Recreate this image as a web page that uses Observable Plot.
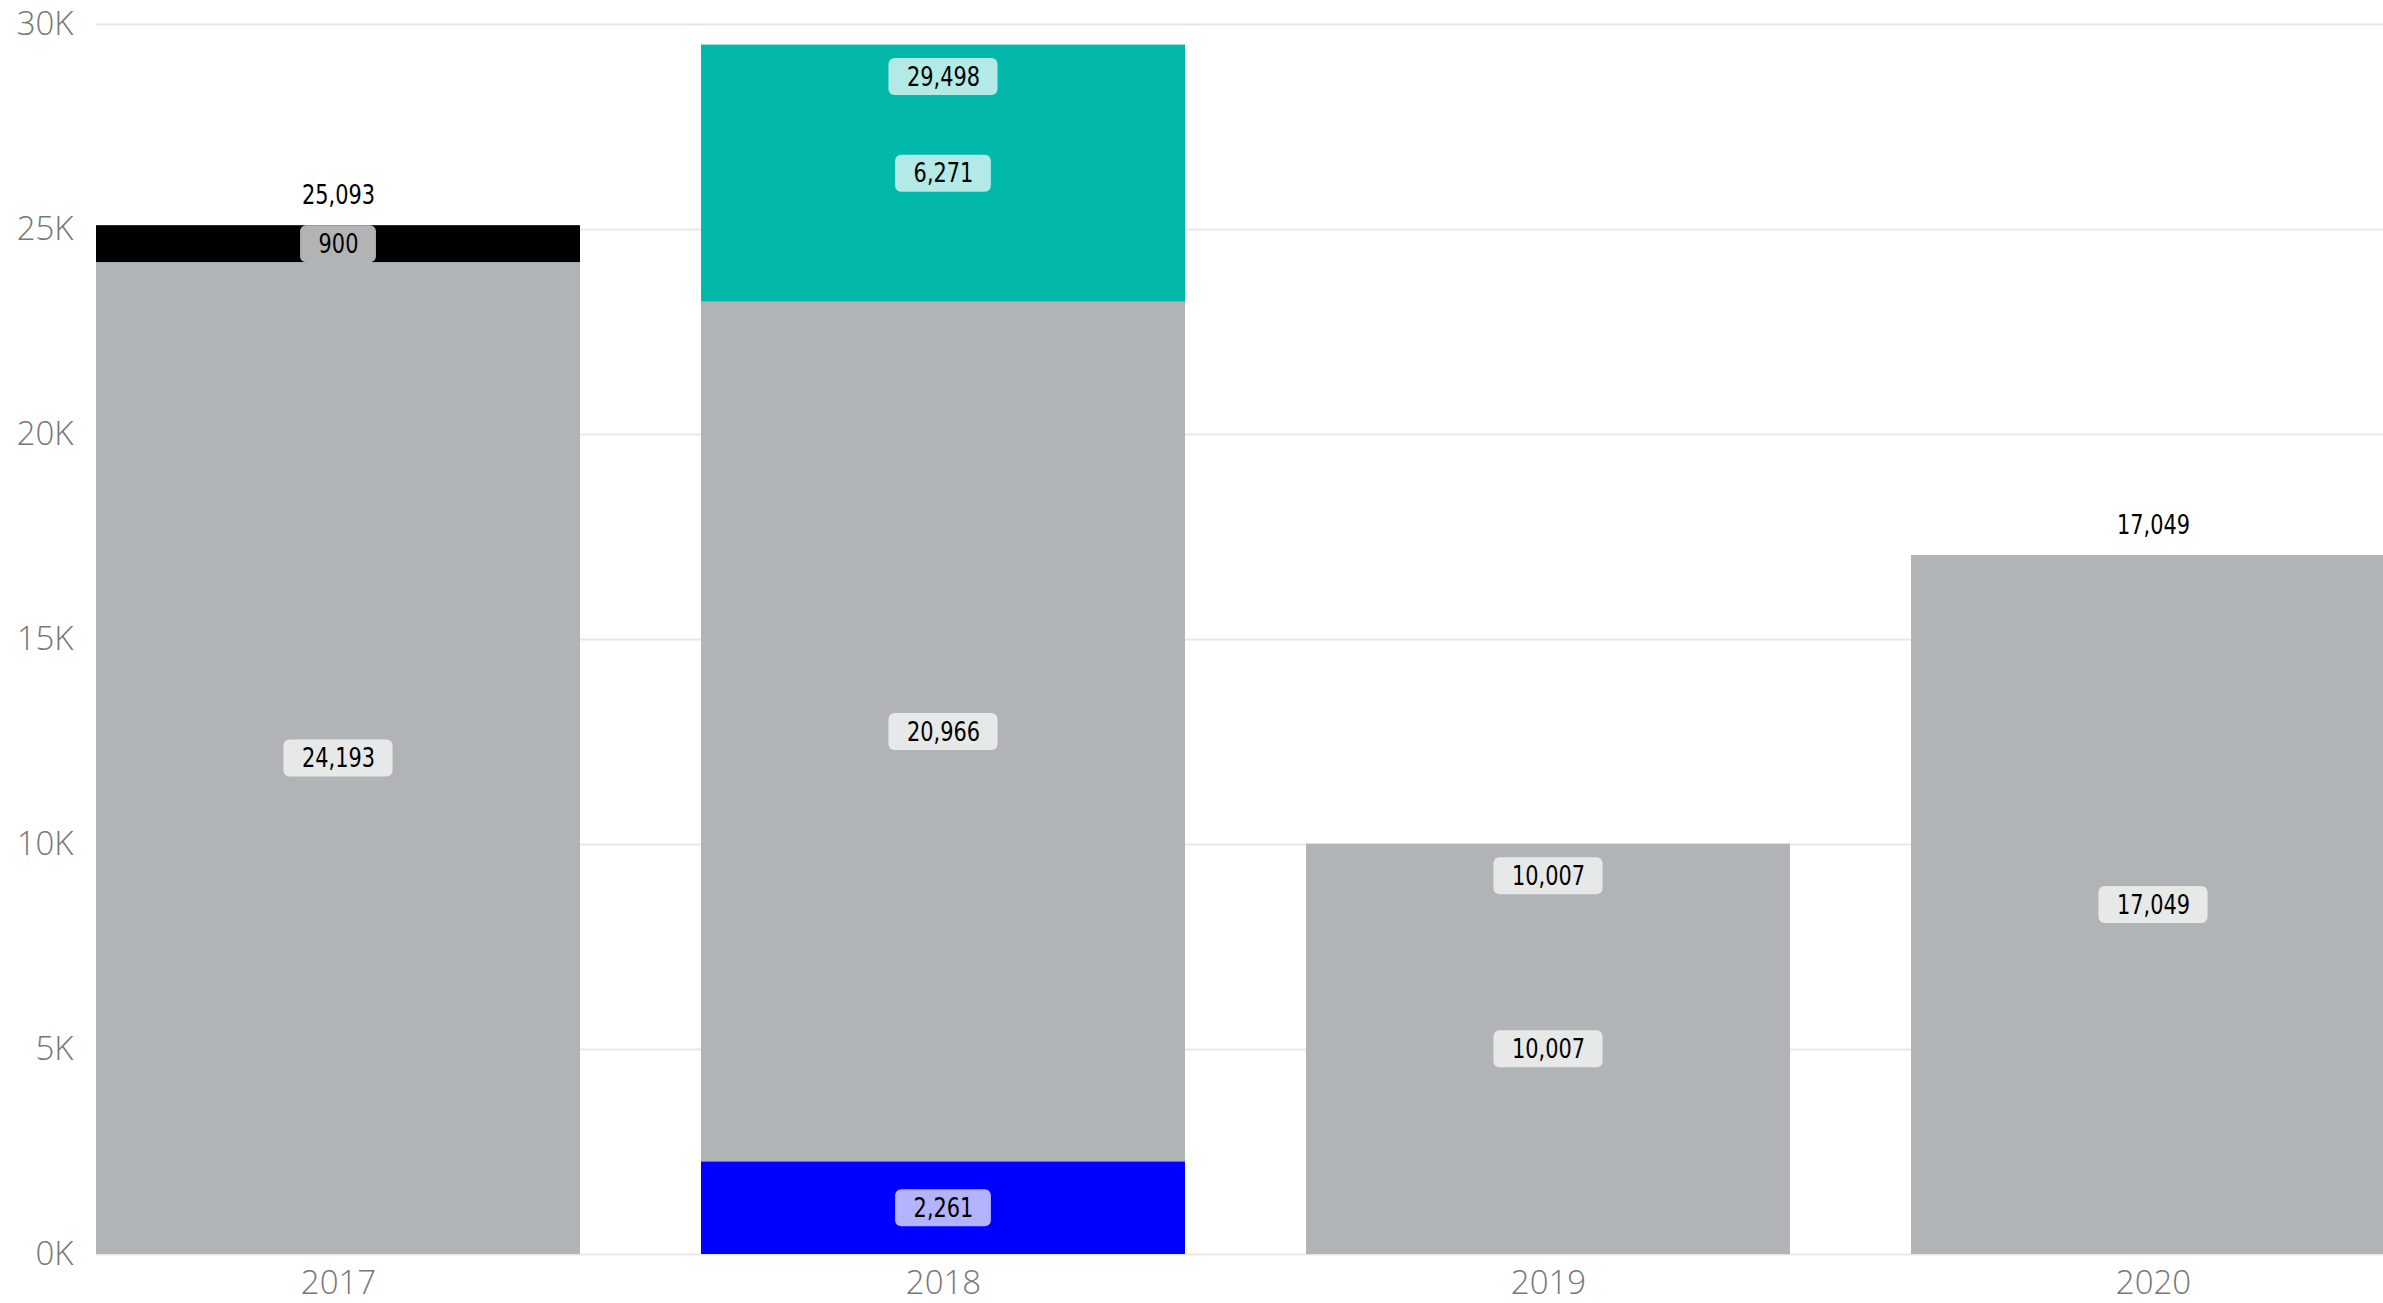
<!DOCTYPE html>
<html><head><meta charset="utf-8">
<script src="https://cdn.jsdelivr.net/npm/d3@7"></script>
<script src="https://cdn.jsdelivr.net/npm/@observablehq/plot@0.6"></script>
<style>
html,body{margin:0;padding:0;background:#fff;overflow:hidden}
#chart{width:2383px;height:1303px;overflow:hidden}
#chart svg{overflow:hidden}
</style></head><body><div id="chart"></div>
<script>
// ---- data ----
const years = ["2017", "2018", "2019", "2020"];
const segYear = ["2017", "2017", "2018", "2018", "2018", "2019", "2020"];
const segSeries = ["Base", "Extra", "New", "Base", "Growth", "Base", "Base"];
const segValue = [24193, 900, 2261, 20966, 6271, 10007, 17049];
const seriesNames = ["Base", "Extra", "New", "Growth"];
const seriesColors = ["#b0b4b6", "#000000", "#0000ff", "#01b8aa"];
const yTicks = [0, 5000, 10000, 15000, 20000, 25000, 30000];
const totalsInside = ["2018", "2019"];

// ---- build table ----
const rows = [];
const cum = new Map();
segValue.forEach((v, i) => {
  const y = segYear[i];
  const s = cum.get(y) || 0;
  rows.push({year: y, series: segSeries[i], value: v, y1: s, y2: s + v, mid: s + v / 2});
  cum.set(y, s + v);
});
const fmt = d3.format(",");

const W = 2383, H = 1303;
const mLeft = 96, mTop = 24, mBottom = 49;
const xRange = [96, 2395];
const padInner = 0.2;
const step = (xRange[1] - xRange[0]) / (years.length - padInner);
const bw = step * (1 - padInner);

const labelFont = "'DejaVu Sans Condensed', 'DejaVu Sans', sans-serif";
const labelSize = 27;
const squeeze = 0.86;
const ctx = document.createElement("canvas").getContext("2d");
ctx.font = `${labelSize}px ${labelFont}`;
const tw = s => ctx.measureText(s).width * squeeze;

function squeezeRender(index, scales, values, dims, context, next) {
  const g = next(index, scales, values, dims, context);
  g.querySelectorAll("text").forEach(t => {
    const tr = t.getAttribute("transform");
    if (tr && tr.includes("translate")) {
      t.setAttribute("transform", tr + ` scale(${squeeze},1)`);
    } else {
      const x = +(t.getAttribute("x") || 0), y = +(t.getAttribute("y") || 0);
      t.removeAttribute("x"); t.removeAttribute("y");
      t.setAttribute("transform", `translate(${x},${y}) scale(${squeeze},1)`);
    }
  });
  return g;
}

const labels = [];
rows.forEach(r => labels.push({year: r.year, y: r.mid, dy: 0, text: fmt(r.value), box: true}));
years.forEach(y => {
  const t = cum.get(y);
  const inside = totalsInside.includes(y);
  labels.push({year: y, y: t, dy: inside ? 32 : -30, text: fmt(t), box: inside});
});

const marks = [];
marks.push(Plot.ruleY(yTicks, {stroke: "#e8e8e8", strokeWidth: 2}));
marks.push(Plot.barY(rows, {x: "year", y1: "y1", y2: "y2", fill: "series"}));
labels.forEach(l => {
  if (l.box) {
    const w = tw(l.text) + 36;
    const ins = (bw - w) / 2;
    marks.push(Plot.barY([l], {x: "year", y1: "y", y2: "y", dy: l.dy,
      insetTop: -18.5, insetBottom: -18.5, insetLeft: ins, insetRight: ins,
      rx: 6, fill: "white", fillOpacity: 0.7}));
  }
  marks.push(Plot.text([l], {x: "year", y: "y", dy: l.dy, text: "text",
    fill: "black", fontSize: labelSize, fontFamily: labelFont, render: squeezeRender}));
});
marks.push(Plot.axisY(yTicks, {tickSize: 0, tickPadding: 23, tickFormat: d => d / 1000 + "K",
  fontSize: 33, fill: "#777", fontFamily: "'Open Sans', sans-serif", fontWeight: 300}));
marks.push(Plot.axisX({tickSize: 0, tickPadding: 16, fontSize: 33, fill: "#777",
  fontFamily: "'Open Sans', sans-serif", fontWeight: 300}));

const chart = Plot.plot({
  width: W, height: H,
  marginLeft: mLeft, marginRight: 0, marginTop: mTop, marginBottom: mBottom,
  x: {type: "band", domain: years, range: xRange, paddingInner: padInner, paddingOuter: 0, align: 0, label: null},
  y: {domain: [0, 30000], label: null},
  color: {domain: seriesNames, range: seriesColors},
  style: {background: "white", overflow: "hidden"},
  marks
});
document.getElementById("chart").appendChild(chart);
</script></body></html>
